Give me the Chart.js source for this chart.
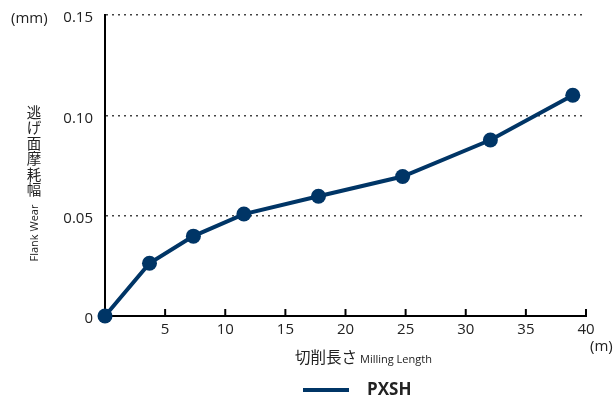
<!DOCTYPE html>
<html>
<head>
<meta charset="utf-8">
<script src="https://cdn.jsdelivr.net/npm/chart.js@4.4.1/dist/chart.umd.min.js"></script>
<style>
  html, body { margin: 0; padding: 0; background: #fff; }
  #wrap { width: 615px; height: 397px; }
</style>
</head>
<body>
<div id="wrap"><canvas id="wearChart" width="615" height="397"></canvas></div>
<script>
// Milling length (m) and flank wear (mm)
var millingLength = [0, 3.7, 7.35, 11.55, 17.75, 24.75, 32.05, 38.9];
var flankWear = [0, 0.0263, 0.0398, 0.0508, 0.0597, 0.0695, 0.0877, 0.110];
var seriesName = 'PXSH';
var xTicks = [5, 10, 15, 20, 25, 30, 35, 40];
var yTicks = [0, 0.05, 0.10, 0.15];

var navy = 'rgb(0, 53, 102)';
var latin = '"Open Sans", "Noto Sans", sans-serif';
var jp = '"Noto Sans CJK JP", "Open Sans", sans-serif';

// Extra texts, inner x ticks and legend
var decorations = {
    id: 'decorations',
    afterDraw: function (chart) {
        var ctx = chart.ctx;
        var x = chart.scales.x;
        var area = chart.chartArea;
        ctx.save();

        // x ticks pointing up into the plot
        ctx.strokeStyle = '#000';
        ctx.lineWidth = 2;
        xTicks.forEach(function (v) {
            var px = x.getPixelForValue(v);
            ctx.beginPath();
            ctx.moveTo(px, area.bottom);
            ctx.lineTo(px, area.bottom - 7);
            ctx.stroke();
        });

        ctx.fillStyle = '#222';
        ctx.textBaseline = 'middle';

        // units
        ctx.font = '15px ' + latin;
        ctx.textAlign = 'left';
        ctx.fillText('(mm)', 11, 19);
        ctx.fillText('(m)', 590, 347);

        // y title: upright Japanese stacked vertically
        ctx.font = '14.5px ' + jp;
        ctx.textAlign = 'center';
        var jpTitle = '逃げ面摩耗幅';
        for (var i = 0; i < jpTitle.length; i++) {
            ctx.fillText(jpTitle[i], 34, 112 + i * 15.5);
        }
        ctx.save();
        ctx.translate(35, 233);
        ctx.rotate(-Math.PI / 2);
        ctx.font = '11px ' + latin;
        ctx.fillText('Flank Wear', 0, 0);
        ctx.restore();

        // x title
        ctx.textAlign = 'left';
        ctx.textBaseline = 'alphabetic';
        ctx.font = '15.5px ' + jp;
        ctx.fillText('切削長さ', 295, 363);
        var w = ctx.measureText('切削長さ').width;
        ctx.font = '11px ' + latin;
        ctx.fillText('Milling Length', 295 + w + 3, 363);

        // legend
        var ds = chart.data.datasets[0];
        ctx.strokeStyle = ds.borderColor;
        ctx.lineWidth = 4;
        ctx.beginPath();
        ctx.moveTo(303, 390);
        ctx.lineTo(349, 390);
        ctx.stroke();
        ctx.fillStyle = '#222';
        ctx.font = 'bold 17px ' + latin;
        ctx.textBaseline = 'middle';
        ctx.fillText(ds.label, 367, 390);

        ctx.restore();
    }
};

var chart = new Chart(document.getElementById('wearChart').getContext('2d'), {
    type: 'scatter',
    data: {
        datasets: [{
            label: seriesName,
            data: millingLength.map(function (v, i) { return { x: v, y: flankWear[i] }; }),
            showLine: true,
            borderColor: navy,
            backgroundColor: navy,
            borderWidth: 4,
            pointRadius: 7.5,
            pointHoverRadius: 7.5,
            pointBorderWidth: 0,
            clip: false,
        }],
    },
    options: {
        responsive: false,
        animation: false,
        layout: { padding: { left: 0, right: 29, top: 15, bottom: 0 } },
        plugins: {
            legend: { display: false },
            tooltip: { enabled: false },
        },
        scales: {
            x: {
                type: 'linear',
                min: 0,
                max: 40,
                afterBuildTicks: function (scale) {
                    scale.ticks = xTicks.map(function (v) { return { value: v }; });
                },
                afterFit: function (scale) { scale.height = 81; },
                grid: { display: false, drawTicks: false },
                border: { display: true, color: '#000', width: 2 },
                ticks: {
                    padding: 5,
                    color: '#222',
                    font: { family: latin, size: 15 },
                    maxRotation: 0,
                },
            },
            y: {
                type: 'linear',
                min: 0,
                max: 0.15,
                afterBuildTicks: function (scale) {
                    scale.ticks = yTicks.map(function (v) { return { value: v }; });
                },
                afterFit: function (scale) {
                    scale.width = 105;
                    scale.paddingTop = 0;
                    scale.paddingBottom = 0;
                },
                grid: {
                    drawTicks: false,
                    color: function (c) { return c.tick && c.tick.value === 0 ? 'rgba(0,0,0,0)' : '#444'; },
                    lineWidth: 1.5,
                },
                // in v4 border.dash sets the dash of the grid lines
                border: { display: true, color: '#000', width: 2, dash: [2, 4] },
                ticks: {
                    padding: 12,
                    labelOffset: 3,
                    color: '#222',
                    font: { family: latin, size: 15 },
                    callback: function (v) { return v === 0 ? '0' : v.toFixed(2); },
                },
            },
        },
    },
    plugins: [decorations],
});
</script>
</body>
</html>
